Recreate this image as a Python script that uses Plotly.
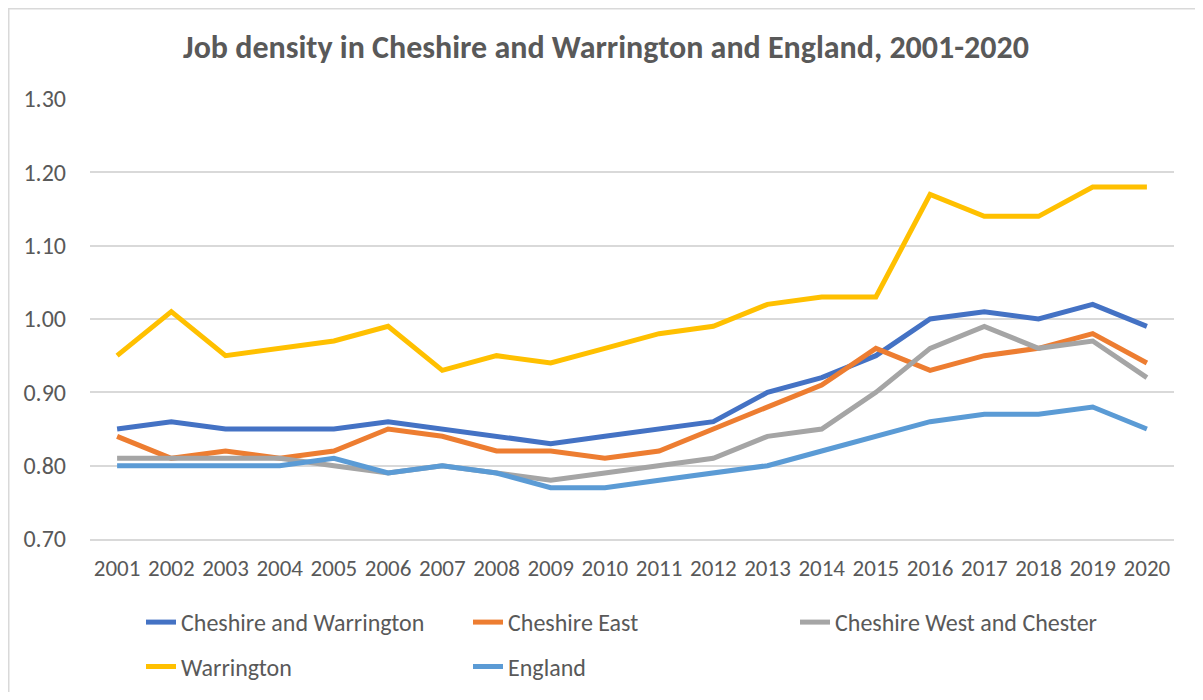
import plotly.graph_objects as go

years = [str(y) for y in range(2001, 2021)]
cheshire_warrington = [0.85, 0.86, 0.85, 0.85, 0.85, 0.86, 0.85, 0.84, 0.83, 0.84,
                       0.85, 0.86, 0.90, 0.92, 0.95, 1.00, 1.01, 1.00, 1.02, 0.99]
cheshire_east = [0.84, 0.81, 0.82, 0.81, 0.82, 0.85, 0.84, 0.82, 0.82, 0.81,
                 0.82, 0.85, 0.88, 0.91, 0.96, 0.93, 0.95, 0.96, 0.98, 0.94]
cheshire_west = [0.81, 0.81, 0.81, 0.81, 0.80, 0.79, 0.80, 0.79, 0.78, 0.79,
                 0.80, 0.81, 0.84, 0.85, 0.90, 0.96, 0.99, 0.96, 0.97, 0.92]
warrington = [0.95, 1.01, 0.95, 0.96, 0.97, 0.99, 0.93, 0.95, 0.94, 0.96,
              0.98, 0.99, 1.02, 1.03, 1.03, 1.17, 1.14, 1.14, 1.18, 1.18]
england = [0.80, 0.80, 0.80, 0.80, 0.81, 0.79, 0.80, 0.79, 0.77, 0.77,
           0.78, 0.79, 0.80, 0.82, 0.84, 0.86, 0.87, 0.87, 0.88, 0.85]
y_ticks = [0.70, 0.80, 0.90, 1.00, 1.10, 1.20, 1.30]

FONT = "Carlito, Calibri, 'Liberation Sans Narrow', 'Open Sans', sans-serif"
TXT = "#595959"

series = [
    ("Cheshire and Warrington", cheshire_warrington, "#4472C4", "legend"),
    ("Cheshire East", cheshire_east, "#ED7D31", "legend"),
    ("Cheshire West and Chester", cheshire_west, "#A5A5A5", "legend"),
    ("Warrington", warrington, "#FFC000", "legend2"),
    ("England", england, "#5B9BD5", "legend2"),
]

fig = go.Figure()
for name, vals, color, lg in series:
    fig.add_trace(go.Scatter(x=years, y=vals, name=name, mode="lines",
                             line=dict(color=color, width=5),
                             legend=lg))

# figure is drawn inside the page's 8px body margin
W, H = 1187, 684
L, R, T, B = 82, 21, 91, 153
pw, ph = W - L - R, H - T - B

def px_x(x):
    return (x - L) / pw

def px_y(y):
    return (H - B - y) / ph

legend_common = dict(orientation="h", font=dict(family=FONT, size=24, color=TXT),
                     entrywidth=282, entrywidthmode="pixels", bgcolor="rgba(0,0,0,0)",
                     xanchor="left", yanchor="middle", itemwidth=30)

fig.update_layout(
    width=W, height=H,
    margin=dict(l=L, r=R, t=T, b=B, autoexpand=False),
    paper_bgcolor="white", plot_bgcolor="white",
    title=dict(text="<b>Job density in Cheshire and Warrington and England, 2001-2020</b>",
               x=598 / W, xanchor="center", y=1 - 39 / H, yanchor="middle",
               font=dict(family=FONT, size=32, color=TXT)),
    font=dict(family=FONT, color=TXT),
    legend=dict(x=px_x(133), y=px_y(614.5), **legend_common),
    legend2=dict(x=px_x(133), y=px_y(659), **legend_common),
    xaxis=dict(type="category", range=[-0.5, 19.5], showgrid=False,
               showline=True, linecolor="#D9D9D9", linewidth=1.5,
               ticks="", ticklabelstandoff=8,
               tickfont=dict(family=FONT, size=23, color=TXT)),
    yaxis=dict(range=[0.70, 1.30], tickvals=y_ticks, tickformat=".2f",
               showgrid=True, gridcolor="#D9D9D9", gridwidth=1.5, zeroline=False,
               showline=False, ticks="", ticklabelstandoff=23,
               tickfont=dict(family=FONT, size=24, color=TXT)),
    shapes=[
        dict(type="line", xref="paper", yref="paper",
             x0=px_x(0.5), x1=px_x(0.5), y0=px_y(0), y1=px_y(H),
             line=dict(color="#D9D9D9", width=2)),
        dict(type="line", xref="paper", yref="paper",
             x0=px_x(0), x1=px_x(W), y0=px_y(0.5), y1=px_y(0.5),
             line=dict(color="#D9D9D9", width=2)),
    ],
)

fig.write_html("out.html")
